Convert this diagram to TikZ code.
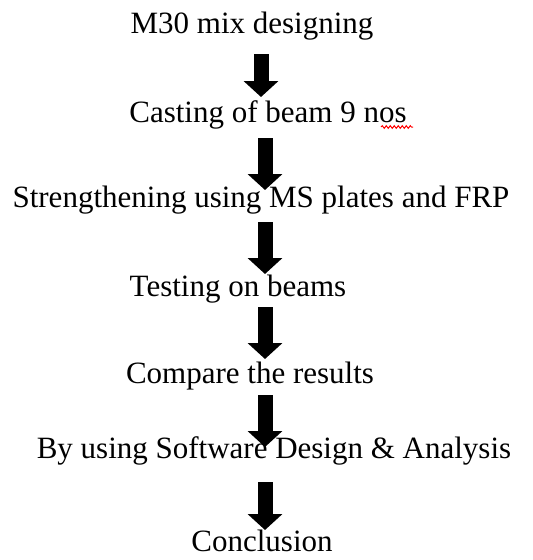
\documentclass[tikz,border=0pt]{standalone}
\usepackage{fontspec}
\setmainfont{Liberation Serif}
\usetikzlibrary{arrows.meta,decorations.pathmorphing}
\begin{document}
\begin{tikzpicture}[x=1pt,y=-1pt,
  lbl/.style={anchor=base,inner sep=0pt,font=\fontsize{31}{36}\selectfont},
  bigarrow/.style={line width=15pt,line cap=butt,-{Triangle[width=34pt,length=16pt]}},
  squiggle/.style={red,line width=1pt,decorate,decoration={snake,amplitude=1.3pt,segment length=4pt}}]
\useasboundingbox (0,0) rectangle (533,560);
\node[lbl] (n1) at (252,33) {M30 mix designing};
\node[lbl] (n2) at (268,122) {Casting of beam 9 nos};
\node[lbl] (n3) at (261,207) {Strengthening using MS plates and FRP};
\node[lbl] (n4) at (238,296) {Testing on beams};
\node[lbl] (n5) at (250,383) {Compare the results};
\node[lbl] (n6) at (274,458) {By using Software Design \& Analysis};
\node[lbl] (n7) at (262,551) {Conclusion};
\coordinate (a1) at (261,54);  \coordinate (b1) at (261,97);
\coordinate (a2) at (265,138); \coordinate (b2) at (265,190);
\coordinate (a3) at (265,222); \coordinate (b3) at (265,274);
\coordinate (a4) at (265,307); \coordinate (b4) at (265,359);
\coordinate (a5) at (265,395); \coordinate (b5) at (265,447);
\coordinate (a6) at (265,482); \coordinate (b6) at (265,530);
\foreach \i in {1,...,6} \draw[bigarrow] (a\i) -- (b\i);
\coordinate (s1) at (381,127); \coordinate (s2) at (413,127);
\draw[squiggle] (s1) -- (s2);
\end{tikzpicture}
\end{document}
